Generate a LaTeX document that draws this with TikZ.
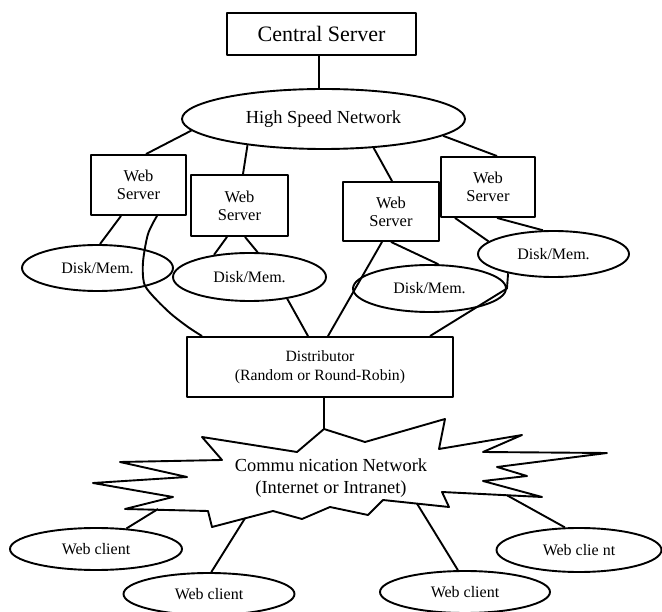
\documentclass[tikz,border=0pt]{standalone}
\usepackage{fontspec}
\setmainfont{Liberation Serif}
\usetikzlibrary{shapes.geometric}
\begin{document}
\begin{tikzpicture}[x=1pt, y=-1pt, line width=1.9pt, line join=round,
  box/.style={draw, rectangle, inner sep=0pt, align=center},
  oval/.style={draw, ellipse, inner sep=0pt, align=center},
  srvbox/.style={box, minimum width=95pt, minimum height=60pt,
    font=\fontsize{16.5}{18}\selectfont},
  diskoval/.style={oval, minimum width=152pt, minimum height=46pt,
    font=\fontsize{16}{19}\selectfont},
  clientoval/.style={oval, minimum width=170pt, minimum height=42pt,
    font=\fontsize{16}{19}\selectfont}]
\useasboundingbox (0,0) rectangle (662,612);

% top of the hierarchy
\node[box, minimum width=189pt, minimum height=42pt,
  font=\fontsize{22}{26}\selectfont] (cs) at (321.5,34) {Central Server};
\node[oval, minimum width=283pt, minimum height=60pt,
  font=\fontsize{18.4}{22}\selectfont] (hsn) at (323.5,119) {High Speed Network};

% web servers
\node[srvbox] (ws1) at (138.5,185) {Web\\Server};
\node[srvbox, minimum width=97pt, minimum height=61pt] (ws2) at (239.5,205.5) {Web\\Server};
\node[srvbox, minimum width=96pt, minimum height=59pt] (ws3) at (391,211.5) {Web\\Server};
\node[srvbox, minimum width=94pt] (ws4) at (488,187) {Web\\Server};

% local storage
\node[diskoval, minimum width=151pt] (d1) at (97.5,268) {Disk/Mem.};
\node[diskoval, minimum width=153pt, minimum height=48pt] (d2) at (249.5,277) {Disk/Mem.};
\node[diskoval, minimum width=153pt, minimum height=47pt] (d3) at (429.5,288.5) {Disk/Mem.};
\node[diskoval, minimum width=151pt] (d4) at (553.5,254) {Disk/Mem.};

% front end
\node[box, minimum width=266pt, minimum height=60pt,
  font=\fontsize{15.7}{19}\selectfont] (dist) at (320,367)
  {Distributor\\(Random or Round-Robin)};

% communication network cloud
\draw (324,429) -- (365,442) -- (445,419) -- (439,449) -- (522,435)
  -- (483,452) -- (607,453) -- (497,467) -- (527,476) -- (483,481)
  -- (542,497) -- (442,492) -- (449,507) -- (383,500) -- (368,515)
  -- (330,507) -- (302,519) -- (273,511) -- (212,527) -- (208,511)
  -- (125,509) -- (173,497) -- (93,483) -- (187,477) -- (120,462)
  -- (222,460) -- (202,437) -- (297,452) -- cycle;
\node[align=center, inner sep=0pt, font=\fontsize{18.4}{22}\selectfont]
  (net) at (331,478) {Commu nication Network\\(Internet or Intranet)};
\coordinate (ntop) at (324,429);
\coordinate (nc1) at (158,509);
\coordinate (nc2) at (245,518.3);
\coordinate (nc3) at (417,503.6);
\coordinate (nc4) at (507,495.3);

% clients
\node[clientoval, minimum width=172pt] (c1) at (96,549) {Web client};
\node[clientoval, minimum width=171pt] (c2) at (209,594) {Web client};
\node[clientoval] (c3) at (465,592) {Web client};
\node[clientoval, minimum width=165pt, minimum height=44pt] (c4) at (579,550) {Web clie nt};

% central server to backbone
\coordinate (csb) at ([xshift=-2.5pt]cs.south);
\draw (csb) -- (csb |- hsn.north);

% backbone to servers
\draw (hsn.185) -- ([xshift=7.5pt]ws1.north);
\draw (hsn.199.5) -- ([xshift=3.5pt]ws2.north);
\draw (hsn.330) -- ([xshift=1pt]ws3.north);
\draw (hsn.352.3) -- ([xshift=9pt]ws4.north);

% servers to storage
\draw ([xshift=-17.5pt]ws1.south) -- (d1.84);
\draw ([xshift=-12.5pt]ws2.south) -- (d2.148.9);
\draw ([xshift=5.5pt]ws2.south) -- (d2.72.6);
\draw (ws3.south) -- (d3.70);
\draw ([xshift=-33pt]ws4.south) -- (d4.169.6);
\draw ([xshift=9pt]ws4.south) -- (d4.114.5);

% links into the distributor
\coordinate (w1b) at ([xshift=18.5pt]ws1.south);
\coordinate (dst1) at ([xshift=-118pt]dist.north);
\draw plot[smooth, tension=0.5] coordinates {(w1b) (148,234) (143,262)
  (144,283) (152,295) (170,313) (188,327) (dst1)};
\draw (d2.330) -- ([xshift=-12pt]dist.north);
\draw ([xshift=-9pt]ws3.south) -- ([xshift=8pt]dist.north);
\draw (d4.203.6) -- (d3.east) -- ([xshift=110pt]dist.north);

% distributor to network
\draw ([xshift=4pt]dist.south) -- (ntop);

% network to clients
\draw (nc1) -- (c1.34.3);
\draw (nc2) -- (c2.84.6);
\draw (nc3) -- (c3.108.4);
\draw (nc4) -- (c4.122.8);
\end{tikzpicture}
\end{document}
